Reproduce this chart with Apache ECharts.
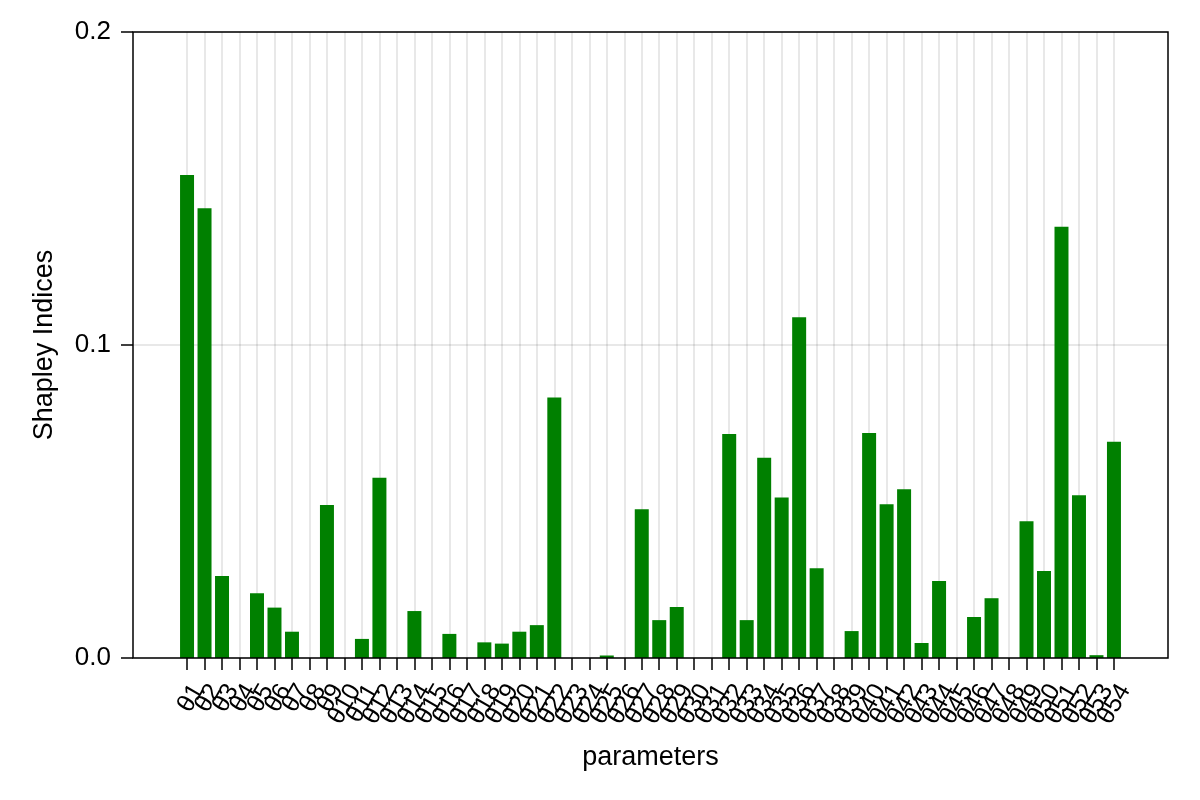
<!DOCTYPE html>
<html>
<head>
<meta charset="utf-8">
<script src="https://cdn.jsdelivr.net/npm/echarts@6/dist/echarts.min.js"></script>
<style>html,body{margin:0;padding:0;background:#fff;}#c{width:1200px;height:800px;}</style>
</head>
<body>
<div id="c"></div>
<script>
const categories = ['θ1','θ2','θ3','θ4','θ5','θ6','θ7','θ8','θ9','θ10','θ11','θ12','θ13','θ14','θ15','θ16','θ17','θ18','θ19','θ20','θ21','θ22','θ23','θ24','θ25','θ26','θ27','θ28','θ29','θ30','θ31','θ32','θ33','θ34','θ35','θ36','θ37','θ38','θ39','θ40','θ41','θ42','θ43','θ44','θ45','θ46','θ47','θ48','θ49','θ50','θ51','θ52','θ53','θ54'];
const shapley = [0.1543,0.1437,0.0262,0,0.0207,0.0161,0.0084,0,0.0489,0,0.0061,0.0576,0,0.0150,0,0.0077,0,0.0050,0.0046,0.0084,0.0105,0.0832,0,0,0.0008,0,0.0475,0.0121,0.0163,0,0,0.0716,0.0121,0.0640,0.0513,0.1089,0.0287,0,0.0086,0.0719,0.0491,0.0539,0.0048,0.0246,0,0.0131,0.0191,0,0.0437,0.0278,0.1378,0.0520,0.0009,0.0691];
const yTicks = [0, 0.1, 0.2];

// layout
const W = 1200, H = 800;
const plotL = 133, plotR = 1168, plotT = 32, plotB = 658;
const n = categories.length;
const barFrac = 0.8;
const lo = 1 - barFrac / 2, hi = n + barFrac / 2;
const pad = 0.05 * (hi - lo);
const xMin = lo - pad, xMax = hi + pad;
const pxPer = (plotR - plotL) / (xMax - xMin);
const firstX = plotL + (1 - xMin) * pxPer;
const lastX = plotL + (n - xMin) * pxPer;

const font = 'Liberation Sans, Arial, Helvetica, sans-serif';
const chart = echarts.init(document.getElementById('c'), null, {renderer: 'canvas'});
chart.setOption({
  animation: false,
  backgroundColor: '#fff',
  grid: [
    {left: plotL, right: W - plotR, top: plotT, bottom: H - plotB, show: true, borderColor: '#000', borderWidth: 1.5, backgroundColor: 'transparent', z: 5},
    {left: firstX, right: W - lastX, top: plotT, bottom: H - plotB}
  ],
  xAxis: [
    {gridIndex: 0, type: 'value', min: xMin, max: xMax, show: false},
    {gridIndex: 1, type: 'category', data: categories, boundaryGap: false,
      name: 'parameters', nameLocation: 'middle', nameGap: 86,
      nameTextStyle: {fontFamily: font, fontSize: 27, color: '#000'},
      axisLine: {show: false},
      axisTick: {show: true, interval: 0, length: 12, lineStyle: {color: '#000', width: 1.5}},
      axisLabel: {interval: 0, rotate: 60, margin: 22, verticalAlign: 'top', fontFamily: font, fontSize: 25, color: '#000'},
      splitLine: {show: true, interval: 0, lineStyle: {color: 'rgba(0,0,0,0.12)', width: 1.5}}
    }
  ],
  yAxis: [
    {gridIndex: 0, type: 'value', min: yTicks[0], max: yTicks[yTicks.length - 1], interval: 0.1,
      name: 'Shapley Indices', nameLocation: 'middle', nameGap: 75, nameRotate: 90,
      nameTextStyle: {fontFamily: font, fontSize: 27, color: '#000'},
      axisLine: {show: false, onZero: false},
      axisTick: {show: true, length: 12, lineStyle: {color: '#000', width: 1.5}},
      axisLabel: {margin: 22, fontFamily: font, fontSize: 26, color: '#000', formatter: v => v.toFixed(1)},
      splitLine: {show: true, lineStyle: {color: 'rgba(0,0,0,0.12)', width: 1.5}}
    },
    {gridIndex: 1, type: 'value', min: yTicks[0], max: yTicks[yTicks.length - 1], show: false}
  ],
  series: [{
    type: 'bar', xAxisIndex: 1, yAxisIndex: 1, data: shapley,
    barWidth: barFrac * pxPer,
    itemStyle: {color: '#008000'}
  }]
});
</script>
</body>
</html>
